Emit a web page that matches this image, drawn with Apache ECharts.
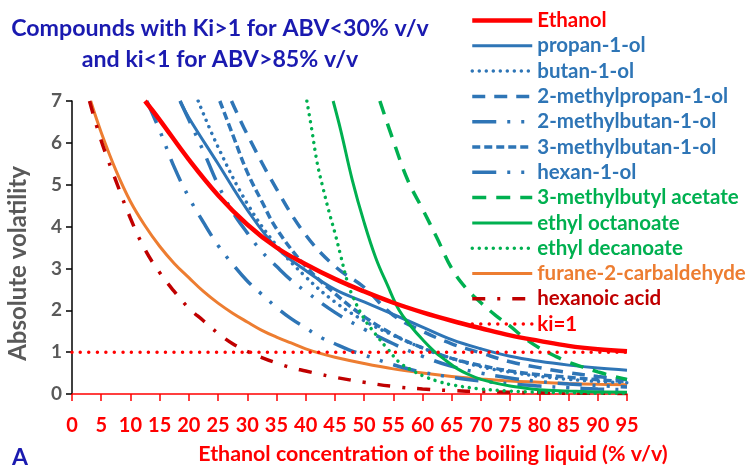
<!DOCTYPE html>
<html><head><meta charset="utf-8">
<script src="https://cdn.jsdelivr.net/npm/echarts@6/dist/echarts.min.js"></script>
<style>html,body{margin:0;padding:0;background:#fff}#c{width:753px;height:466px}</style>
</head><body><div id="c"></div><script>
// ---- data (x = % v/v ethanol, y = absolute volatility) ----
const xTicks = [0,5,10,15,20,25,30,35,40,45,50,55,60,65,70,75,80,85,90,95];
const yTicks = [0,1,2,3,4,5,6,7];
const ethanol = [[12.5,7],[15,6.55],[20,5.6],[25,4.75],[30,4.05],[35,3.5],[40,3.1],[45,2.75],[50,2.45],[55,2.18],[60,1.95],[65,1.75],[70,1.57],[75,1.4],[80,1.27],[85,1.15],[90,1.07],[95,1.02]];
const propanol = [[18.5,7],[20,6.6],[25,5.5],[30,4.4],[35,3.5],[40,2.95],[45,2.5],[50,2.2],[55,1.9],[60,1.6],[65,1.3],[70,1.08],[75,0.9],[80,0.78],[85,0.69],[90,0.62],[95,0.57]];
const butanol = [[21.6,7],[25,5.9],[30,4.55],[35,3.55],[40,2.8],[45,2.2],[50,1.75],[55,1.4],[60,1.1],[65,0.85],[70,0.65],[75,0.52],[80,0.42],[85,0.35],[90,0.3],[95,0.27]];
const methylpropanol = [[27.3,7],[30,6.2],[35,4.9],[40,3.8],[45,3.05],[50,2.55],[55,1.88],[60,1.5],[65,1.2],[70,0.98],[75,0.77],[80,0.63],[85,0.51],[90,0.42],[95,0.34]];
const methylbutanol2 = [[18.5,7],[20,6.55],[22.5,5.8],[25,5.0],[27.5,4.35],[30,3.85],[32.5,3.4],[35,3.05],[37.5,2.72],[40,2.45],[45,1.95],[50,1.55],[55,1.2],[60,0.9],[65,0.66],[70,0.5],[75,0.38],[80,0.3],[85,0.24],[90,0.2],[95,0.17]];
const methylbutanol3 = [[25.3,7],[27.5,6.2],[30,5.3],[32.5,4.6],[35,3.95],[40,3.05],[45,2.4],[50,1.85],[55,1.42],[60,1.1],[65,0.85],[70,0.68],[75,0.55],[80,0.46],[85,0.4],[90,0.34],[95,0.3]];
const hexanol = [[12.8,7],[15,6.3],[17.5,5.42],[20,4.7],[22.5,4.1],[25,3.55],[27.5,3.1],[30,2.7],[32.5,2.38],[35,2.07],[37.5,1.8],[40,1.58],[42.5,1.36],[45,1.2],[47.5,1.05],[50,0.93],[55,0.7],[60,0.52],[65,0.4],[70,0.31],[75,0.24],[80,0.19],[85,0.15],[90,0.12],[95,0.1]];
const isoamylAcetate = [[52.7,7],[55,6.05],[57.5,5.1],[60,4.42],[62.5,3.72],[65,3.0],[67.5,2.52],[70,2.18],[72.5,1.88],[75,1.62],[77.5,1.33],[80,1.1],[82.5,0.92],[85,0.76],[87.5,0.64],[90,0.53],[92.5,0.43],[95,0.35]];
const ethylOctanoate = [[44.7,7],[46,6.3],[48,5.1],[50,4.1],[52,3.25],[54,2.6],[56,2.0],[58,1.62],[60,1.3],[62,1.02],[64,0.8],[66,0.6],[68,0.46],[70,0.35],[72.5,0.26],[75,0.19],[80,0.1],[85,0.07],[90,0.05],[95,0.04]];
const ethylDecanoate = [[40.2,7],[41,6.35],[42,5.5],[43,4.9],[44,4.35],[45,3.85],[46,3.3],[47,2.75],[48,2.35],[50,1.8],[52,1.42],[54,1.08],[56,0.76],[58,0.58],[60,0.44],[62.5,0.31],[65,0.22],[70,0.12],[75,0.07],[80,0.04],[85,0.03],[90,0.02],[95,0.02]];
const furfural = [[3.2,7],[5,6.25],[7.5,5.35],[10,4.6],[12.5,4.02],[15,3.53],[17.5,3.12],[20,2.78],[22.5,2.45],[25,2.17],[27.5,1.93],[30,1.72],[32.5,1.52],[35,1.36],[37.5,1.22],[40,1.08],[42.5,0.97],[45,0.88],[50,0.73],[55,0.6],[60,0.5],[65,0.42],[70,0.36],[75,0.31],[80,0.28],[85,0.25],[90,0.23],[95,0.22]];
const hexanoicAcid = [[3.0,7],[5,6.05],[7.5,5.1],[10,4.2],[12.5,3.45],[15,2.9],[17.5,2.45],[20,2.05],[22.5,1.75],[25,1.45],[27.5,1.2],[30,1.02],[32.5,0.87],[35,0.74],[37.5,0.63],[40,0.55],[42.5,0.47],[45,0.4],[50,0.28],[55,0.18],[60,0.12],[65,0.08],[70,0.06],[75,0.04],[80,0.03],[85,0.02],[90,0.02],[95,0.01]];
const kiOne = [[0,1],[95,1]];

const RED='#FF0000', BLUE='#2E75B6', GREEN='#00B050', ORANGE='#ED7D31', DRED='#C00000';
const FONT='Lato';

function s(name, data, color, width, type, cap){
  return {name, type:'line', data, symbol:'none', smooth:0.4, clip:true,
    lineStyle:{color, width, type, cap: cap||'butt'}, itemStyle:{color}, emphasis:{disabled:true}};
}
const dashDotDot=[24,11,3,11,3,11];
const series = [
  s('furane-2-carbaldehyde', furfural, ORANGE, 3, 'solid'),
  s('hexanoic acid', hexanoicAcid, DRED, 3.5, [13,12,3,12]),
  s('hexan-1-ol', hexanol, BLUE, 3.5, dashDotDot),
  s('2-methylbutan-1-ol', methylbutanol2, BLUE, 3.5, dashDotDot),
  s('3-methylbutan-1-ol', methylbutanol3, BLUE, 3.5, [8,4]),
  s('2-methylpropan-1-ol', methylpropanol, BLUE, 3.5, [13,9]),
  s('butan-1-ol', butanol, BLUE, 3.5, [0.01,7], 'round'),
  s('propan-1-ol', propanol, BLUE, 3, 'solid'),
  s('ethyl decanoate', ethylDecanoate, GREEN, 3.5, [0.01,7], 'round'),
  s('ethyl octanoate', ethylOctanoate, GREEN, 3, 'solid'),
  s('3-methylbutyl acetate', isoamylAcetate, GREEN, 3.5, [14,10]),
  s('ki=1', kiOne, RED, 3.5, [0.01,8.5], 'round'),
  s('Ethanol', ethanol, RED, 4.5, 'solid')
];
const legendColors = {'Ethanol':RED,'propan-1-ol':BLUE,'butan-1-ol':BLUE,'2-methylpropan-1-ol':BLUE,'2-methylbutan-1-ol':BLUE,'3-methylbutan-1-ol':BLUE,'hexan-1-ol':BLUE,'3-methylbutyl acetate':GREEN,'ethyl octanoate':GREEN,'ethyl decanoate':GREEN,'furane-2-carbaldehyde':ORANGE,'hexanoic acid':DRED,'ki=1':RED};
const legendOrder = ['Ethanol','propan-1-ol','butan-1-ol','2-methylpropan-1-ol','2-methylbutan-1-ol','3-methylbutan-1-ol','hexan-1-ol','3-methylbutyl acetate','ethyl octanoate','ethyl decanoate','furane-2-carbaldehyde','hexanoic acid','ki=1'];

const chart = echarts.init(document.getElementById('c'), null, {renderer:'canvas'});
chart.setOption({
  animation:false,
  backgroundColor:'#fff',
  title:[
    {text:'Compounds with Ki>1 for ABV<30% v/v\nand ki<1 for ABV>85% v/v', left:220, top:13, textAlign:'center', padding:0,
     textStyle:{fontFamily:FONT, fontWeight:'bold', fontSize:23.2, color:'#1A1AB0', lineHeight:31}},
    {text:'A', left:12, top:446, padding:0, textStyle:{fontFamily:FONT, fontWeight:'bold', fontSize:23, color:'#1A1AB0'}}
  ],
  legend:{
    orient:'vertical', left:465, top:5, itemWidth:60, itemHeight:14, itemGap:4.3,
    selectedMode:false,
    itemStyle:{opacity:0},
    lineStyle:{width:'inherit'},
    data: legendOrder.map(n=>({name:n, textStyle:{color:legendColors[n]}})),
    textStyle:{fontFamily:FONT, fontWeight:'bold', fontSize:20.5, lineHeight:20}
  },
  grid:{left:72, right:126, top:101, bottom:72, containLabel:false, outerBoundsMode:'none'},
  xAxis:{type:'value', min:0, max:95, interval:5,
    axisLine:{show:true, onZero:false, lineStyle:{color:RED, width:1.5}},
    axisTick:{show:true, length:7, lineStyle:{color:RED, width:1.5}},
    splitLine:{show:false},
    axisLabel:{color:RED, fontFamily:FONT, fontWeight:'bold', fontSize:20, margin:22,
      formatter:v=>xTicks.includes(v)?String(v):''},
    name:'Ethanol concentration of the boiling liquid (% v/v)', nameLocation:'middle', nameGap:50,
    nameTextStyle:{color:RED, fontFamily:FONT, fontWeight:'bold', fontSize:21.4, padding:[0,0,0,167]}
  },
  yAxis:{type:'value', min:0, max:7, interval:1,
    axisLine:{show:true, lineStyle:{color:'#000', width:1.5}},
    axisTick:{show:true, length:6, lineStyle:{color:'#000', width:1.5}},
    splitLine:{show:false},
    axisLabel:{color:'#595959', fontFamily:FONT, fontWeight:'bold', fontSize:19, margin:10,
      formatter:v=>yTicks.includes(v)?String(v):''},
    name:'Absolute volatility', nameLocation:'middle', nameGap:42,
    nameTextStyle:{color:'#595959', fontFamily:FONT, fontWeight:'bold', fontSize:24, padding:[0,32,0,0]}
  },
  series
});
</script></body></html>
